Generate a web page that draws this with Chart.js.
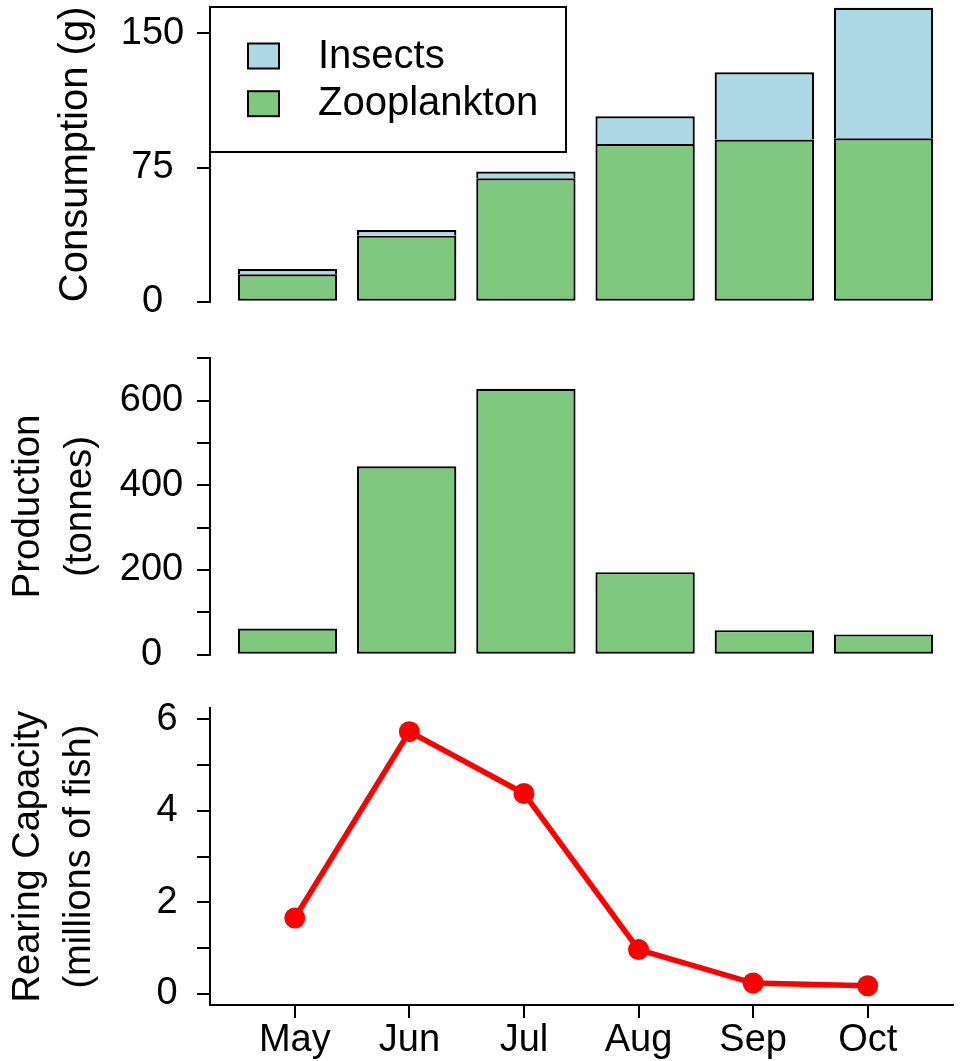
<!DOCTYPE html>
<html>
<head>
<meta charset="utf-8">
<title>Consumption, production and rearing capacity</title>
<script src="https://cdn.jsdelivr.net/npm/chart.js@4"></script>
<style>
  html, body { margin: 0; padding: 0; background: #fff; }
  #wrap { position: relative; width: 963px; height: 1061px; }
  .panel { position: absolute; left: 0; width: 963px; }
</style>
</head>
<body>
<div id="wrap">
  <div class="panel" style="top:0;height:335px"><canvas id="consumption"></canvas></div>
  <div class="panel" style="top:335px;height:350px"><canvas id="production"></canvas></div>
  <div class="panel" style="top:685px;height:376px"><canvas id="rearing"></canvas></div>
</div>
<script>
// Data
const months = ['May', 'Jun', 'Jul', 'Aug', 'Sep', 'Oct'];
const zooplankton = [15.3, 36.9, 69.0, 88.1, 90.6, 91.3];   // g
const insects = [3.0, 3.2, 3.7, 15.5, 37.6, 73.0];          // g
const production = [62, 445, 628, 195, 58, 48];             // tonnes
const rearingCapacity = [1.66, 5.73, 4.38, 0.97, 0.24, 0.18]; // millions of fish

const consumptionTicks = [0, 75, 150];
const consumptionLabels = ['0', '75', '150'];
const productionTicks = [0, 100, 200, 300, 400, 500, 600, 700];
const productionLabels = ['0', '', '200', '', '400', '', '600', ''];
const rearingTicks = [0, 1, 2, 3, 4, 5, 6];
const rearingLabels = ['0', '', '2', '', '4', '', '6'];

const GREEN = '#7FC97F';
const BLUE = '#ADD8E6';
const RED = '#FF0000';
const AXIS_LEFT = 210;
const FONT = 38;

Chart.defaults.font.family = '"Liberation Sans", Arial, Helvetica, sans-serif';
Chart.defaults.color = '#000';

// barplot() style positions: width 1, space 0.2
const barSpace = 0.2;
const barX = months.map((m, i) => barSpace + i * (1 + barSpace) + 0.5);

// no extra room for edge labels, the plot areas are fixed
function noPadding(axis) {
    axis.paddingTop = 0;
    axis.paddingBottom = 0;
    axis.paddingLeft = 0;
    axis.paddingRight = 0;
}

function yAxis(o) {
    return {
        min: o.min,
        max: o.max,
        afterFit: (axis) => { axis.width = AXIS_LEFT; noPadding(axis); },
        afterBuildTicks: (axis) => { axis.ticks = o.ticks.map(v => ({ value: v })); },
        border: { display: true, color: '#000', width: 2 },
        grid: { display: true, drawOnChartArea: false, drawTicks: true, tickLength: 13, color: '#000', lineWidth: 2 },
        ticks: {
            color: '#000', font: { size: FONT }, padding: o.pad, crossAlign: 'center', autoSkip: false,
            callback: (v, i) => o.labels[i]
        },
        title: {
            display: true, text: o.title, color: '#000',
            font: { size: o.titleSize || FONT, lineHeight: 1.34 },
            padding: { top: o.titlePad, bottom: 0 }
        }
    };
}

const barXAxis = {
    type: 'linear',
    display: false,
    min: -0.08,
    max: 7.48,
    offset: false,
    stacked: true,
    afterFit: noPadding,
    afterBuildTicks: (axis) => { axis.ticks = barX.map(v => ({ value: v })); }
};

// legend with a box, top left of the plot
const boxLegend = {
    id: 'boxLegend',
    afterDatasetsDraw(chart) {
        const { ctx, chartArea } = chart;
        const left = chartArea.left, top = chartArea.top;
        ctx.save();
        ctx.fillStyle = '#fff';
        ctx.fillRect(left, top, 356, 145);
        ctx.lineWidth = 2;
        ctx.strokeStyle = '#000';
        ctx.strokeRect(left, top, 356, 145);
        const items = chart.data.datasets.slice().reverse();
        items.forEach((ds, i) => {
            const y = top + 36.5 + i * 47.7;
            ctx.fillStyle = ds.backgroundColor;
            ctx.fillRect(left + 38, y, 31, 25);
            ctx.strokeRect(left + 38, y, 31, 25);
            ctx.fillStyle = '#000';
            ctx.font = '40px "Liberation Sans", Arial, sans-serif';
            ctx.textBaseline = 'middle';
            ctx.textAlign = 'left';
            ctx.fillText(ds.label, left + 108, y + 13);
        });
        ctx.restore();
    }
};

const common = {
    responsive: true,
    maintainAspectRatio: false,
    animation: false,
    devicePixelRatio: 1,
    plugins: { legend: { display: false }, tooltip: { enabled: false } }
};

// Panel 1: consumption (stacked)
new Chart(document.getElementById('consumption'), {
    type: 'bar',
    data: {
        datasets: [
            {
                label: 'Zooplankton',
                data: zooplankton.map((v, i) => ({ x: barX[i], y: v })),
                backgroundColor: GREEN, borderColor: '#000',
                borderWidth: { top: 2.2, right: 2.2, bottom: 2.2, left: 2.2 }, borderSkipped: false
            },
            {
                label: 'Insects',
                data: insects.map((v, i) => ({ x: barX[i], y: v })),
                backgroundColor: BLUE, borderColor: '#000',
                borderWidth: { top: 2.2, right: 2.2, bottom: 0, left: 2.2 }, borderSkipped: false
            }
        ]
    },
    options: {
        ...common,
        layout: { padding: { top: 7, bottom: 33.3, left: 0, right: 2 } },
        datasets: { bar: { barPercentage: 1 / (1 + barSpace), categoryPercentage: 1, clip: false } },
        scales: {
            x: barXAxis,
            y: { ...yAxis({ min: 0, max: 164.7, ticks: consumptionTicks, labels: consumptionLabels,
                pad: 12.8, title: 'Consumption (g)', titleSize: 40, titlePad: 49.3 }), stacked: true }
        }
    },
    plugins: [boxLegend]
});

// Panel 2: production
new Chart(document.getElementById('production'), {
    type: 'bar',
    data: {
        datasets: [{
            label: 'Production',
            data: production.map((v, i) => ({ x: barX[i], y: v })),
            backgroundColor: GREEN, borderColor: '#000', borderWidth: 2.2, borderSkipped: false
        }]
    },
    options: {
        ...common,
        layout: { padding: { top: 23.3, bottom: 30.3, left: 0, right: 2 } },
        datasets: { bar: { barPercentage: 1 / (1 + barSpace), categoryPercentage: 1, clip: false } },
        scales: {
            x: barXAxis,
            y: yAxis({ min: 0, max: 700, ticks: productionTicks, labels: productionLabels,
                pad: 13.8, title: ['Production', '(tonnes)'], titleSize: 38.5, titlePad: 3 })
        }
    }
});

// Panel 3: rearing capacity
new Chart(document.getElementById('rearing'), {
    type: 'line',
    data: {
        datasets: [{
            label: 'Rearing Capacity',
            data: rearingCapacity.map((v, i) => ({ x: i + 1, y: v })),
            borderColor: RED, borderWidth: 5.5, tension: 0,
            pointRadius: 10.5, pointBackgroundColor: RED, pointBorderWidth: 0,
            clip: false
        }]
    },
    options: {
        ...common,
        layout: { padding: { top: 23.3, bottom: 0, left: 0, right: 2 } },
        scales: {
            x: {
                type: 'linear', min: 0.26, max: 6.74,
                afterBuildTicks: (axis) => { axis.ticks = months.map((m, i) => ({ value: i + 1 })); },
                afterFit: (axis) => { axis.height = 56; noPadding(axis); },
                border: { display: true, color: '#000', width: 2 },
                grid: { display: true, drawOnChartArea: false, drawTicks: true, tickLength: 13, color: '#000', lineWidth: 2 },
                ticks: { color: '#000', font: { size: FONT }, padding: 0, maxRotation: 0, autoSkip: false,
                    callback: (v, i) => months[i] }
            },
            y: yAxis({ min: -0.24, max: 6.24, ticks: rearingTicks, labels: rearingLabels,
                pad: 19.4, title: ['Rearing Capacity', '(millions of fish)'], titlePad: 3 })
        }
    }
});
</script>
</body>
</html>
